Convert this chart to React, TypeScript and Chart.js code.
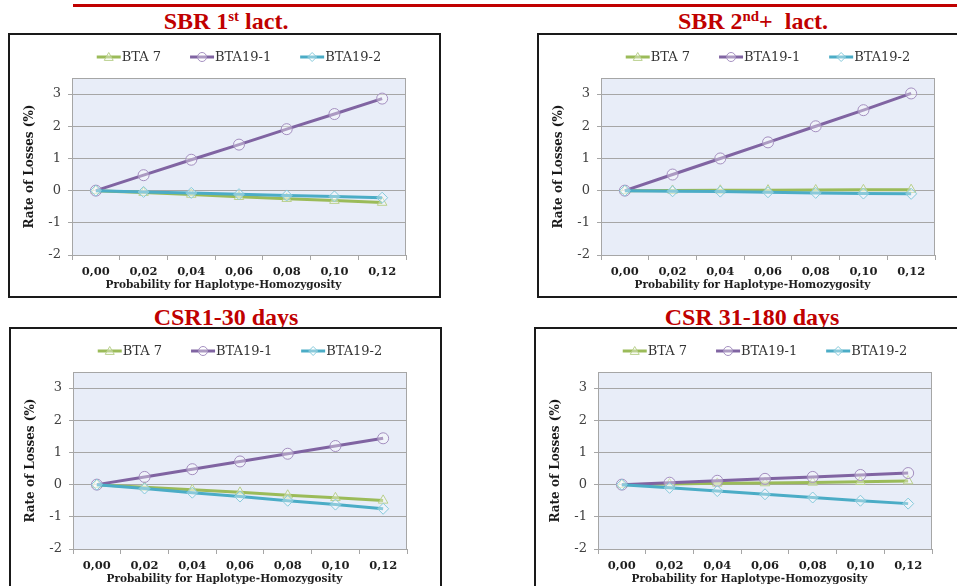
import React, { useEffect, useRef } from 'react';
import { Chart, registerables } from 'chart.js';

Chart.register(...registerables);

// ---------- data ----------
const xLabels = ['0,00', '0,02', '0,04', '0,06', '0,08', '0,10', '0,12'];
const yTicks = [-2, -1, 0, 1, 2, 3];
const seriesNames = ['BTA 7', 'BTA19-1', 'BTA19-2'];

const sbr1Bta7 = [0, -0.06, -0.12, -0.19, -0.25, -0.31, -0.37];
const sbr1Bta19_1 = [0, 0.48, 0.96, 1.43, 1.91, 2.38, 2.86];
const sbr1Bta19_2 = [0, -0.04, -0.07, -0.11, -0.15, -0.18, -0.22];

const sbr2Bta7 = [0, 0.005, 0.01, 0.015, 0.02, 0.025, 0.03];
const sbr2Bta19_1 = [0, 0.5, 1.0, 1.5, 2.0, 2.5, 3.02];
const sbr2Bta19_2 = [0, -0.02, -0.03, -0.05, -0.07, -0.09, -0.1];

const csr1Bta7 = [0, -0.08, -0.16, -0.24, -0.33, -0.41, -0.49];
const csr1Bta19_1 = [0, 0.24, 0.48, 0.72, 0.96, 1.2, 1.44];
const csr1Bta19_2 = [0, -0.12, -0.25, -0.37, -0.5, -0.62, -0.75];

const csr2Bta7 = [0, 0.02, 0.04, 0.05, 0.07, 0.09, 0.11];
const csr2Bta19_1 = [0, 0.06, 0.12, 0.18, 0.24, 0.3, 0.36];
const csr2Bta19_2 = [0, -0.1, -0.2, -0.3, -0.4, -0.5, -0.59];

const yTitle = 'Rate of Losses (%)';
const xTitle = 'Probability for Haplotype-Homozygosity';

// ---------- styling ----------
const FONT = "'DejaVu Serif', serif";
const COLORS = ['#9bbb59', '#8064a2', '#4bacc6'];
const MARKER_BORDER = ['#b9d08c', '#a48fc0', '#86cadb'];
const MARKERS = ['triangle', 'circle', 'rectRot'];
const ORDERS = [3, 2, 1];

function drawMarker(ctx: CanvasRenderingContext2D, style: string, x: number, y: number, r: number, stroke: string, fill: string) {
  ctx.save();
  ctx.beginPath();
  if (style === 'circle') {
    ctx.arc(x, y, r, 0, Math.PI * 2);
  } else if (style === 'triangle') {
    ctx.moveTo(x, y - r);
    ctx.lineTo(x + r, y + r * 0.75);
    ctx.lineTo(x - r, y + r * 0.75);
    ctx.closePath();
  } else {
    ctx.moveTo(x, y - r);
    ctx.lineTo(x + r, y);
    ctx.lineTo(x, y + r);
    ctx.lineTo(x - r, y);
    ctx.closePath();
  }
  ctx.fillStyle = fill;
  ctx.fill();
  ctx.lineWidth = 1;
  ctx.strokeStyle = stroke;
  ctx.stroke();
  ctx.restore();
}

const excelLegend = {
  id: 'excelLegend',
  afterDraw(chart: any) {
    const ctx = chart.ctx as CanvasRenderingContext2D;
    const area = chart.chartArea;
    const ds = chart.data.datasets;
    ctx.save();
    ctx.font = `13px ${FONT}`;
    const lineW = 24;
    const gapText = 1;
    const gapItem = 29;
    const widths = ds.map((d: any) => lineW + gapText + ctx.measureText(d.label).width);
    const total = widths.reduce((a: number, b: number) => a + b, 0) + gapItem * (ds.length - 1);
    let x = (area.left + area.right) / 2 - total / 2;
    const y = 22;
    ds.forEach((d: any, i: number) => {
      ctx.strokeStyle = d.borderColor;
      ctx.lineWidth = 3;
      ctx.beginPath();
      ctx.moveTo(x, y);
      ctx.lineTo(x + lineW, y);
      ctx.stroke();
      drawMarker(ctx, d.pointStyle, x + lineW / 2, y, 4.5, d.pointBorderColor, d.pointBackgroundColor);
      ctx.fillStyle = '#333333';
      ctx.textBaseline = 'middle';
      ctx.textAlign = 'left';
      ctx.fillText(d.label, x + lineW + gapText, y + 1);
      x += widths[i] + gapItem;
    });
    ctx.restore();
  },
};

// x-axis title, centred on the whole chart box (as in the spreadsheet original)
const xAxisTitle = {
  id: 'xAxisTitle',
  afterDraw(chart: any) {
    const ctx = chart.ctx as CanvasRenderingContext2D;
    ctx.save();
    ctx.font = `bold 10.5px ${FONT}`;
    ctx.fillStyle = '#1f1f1f';
    ctx.textAlign = 'center';
    ctx.textBaseline = 'middle';
    ctx.fillText(xTitle, chart.width / 2 - 1, 250);
    ctx.restore();
  },
};

const plotFrame = {
  id: 'plotFrame',
  beforeDraw(chart: any) {
    const { ctx, chartArea: a } = chart;
    ctx.save();
    ctx.fillStyle = '#e8edf8';
    ctx.fillRect(a.left, a.top, a.right - a.left, a.bottom - a.top);
    ctx.restore();
  },
  beforeDatasetsDraw(chart: any) {
    const { ctx, chartArea: a } = chart;
    ctx.save();
    ctx.strokeStyle = '#a6a6a6';
    ctx.lineWidth = 1;
    ctx.strokeRect(a.left + 0.5, a.top + 0.5, a.right - a.left - 1, a.bottom - a.top);
    ctx.restore();
  },
};

const CANVAS_W = 429;
const CANVAS_H = 261;

function LossChart({ series }: { series: number[][] }) {
  const ref = useRef<HTMLCanvasElement | null>(null);
  useEffect(() => {
    if (!ref.current) return;
    const chart = new Chart(ref.current, {
      type: 'line',
      data: {
        labels: xLabels,
        datasets: series.map((vals, i) => ({
          label: seriesNames[i],
          data: vals,
          borderColor: COLORS[i],
          backgroundColor: COLORS[i],
          borderWidth: 3,
          pointStyle: MARKERS[i],
          pointRadius: 5.5,
          pointBorderWidth: 1,
          pointBorderColor: MARKER_BORDER[i],
          pointBackgroundColor: 'rgba(255,255,255,0.35)',
          tension: 0,
          order: ORDERS[i],
        })),
      },
      options: {
        responsive: false,
        animation: false,
        layout: { padding: { top: 43, right: 33, left: 0, bottom: 0 } },
        plugins: {
          legend: { display: false },
          tooltip: { enabled: false },
          title: { display: false },
        },
        scales: {
          x: {
            type: 'category',
            offset: true,
            grid: {
              offset: true,
              drawOnChartArea: false,
              drawTicks: true,
              tickLength: 5,
              color: '#a6a6a6',
            },
            border: { color: '#a6a6a6' },
            ticks: {
              color: '#1f1f1f',
              font: { family: FONT, size: 11.5, weight: 'bold' },
              padding: 5,
              maxRotation: 0,
              autoSkip: false,
            },
            title: { display: false },
            afterFit(scale: any) {
              scale.height = 41;
            },
          },
          y: {
            type: 'linear',
            min: -2,
            max: 3.5,
            afterBuildTicks(scale: any) {
              scale.ticks = yTicks.map((v) => ({ value: v }));
            },
            grid: {
              color: '#a6a6a6',
              tickLength: 4,
              drawTicks: true,
            },
            border: { display: false },
            ticks: {
              color: '#404040',
              font: { family: FONT, size: 13 },
              padding: 7,
            },
            title: {
              display: true,
              text: yTitle,
              color: '#1a1a1a',
              font: { family: FONT, size: 12, weight: 'bold' },
              padding: { top: 13, bottom: 0 },
            },
            afterFit(scale: any) {
              scale.width = 62;
            },
          },
        },
      } as any,
      plugins: [plotFrame, excelLegend, xAxisTitle],
    });
    return () => chart.destroy();
  }, [series]);
  return <canvas ref={ref} width={CANVAS_W} height={CANVAS_H} style={{ display: 'block', width: CANVAS_W, height: CANVAS_H }} />;
}

function Panel({ left, top, series }: { left: number; top: number; series: number[][] }) {
  return (
    <div
      style={{
        position: 'absolute',
        left,
        top,
        width: CANVAS_W + 4,
        height: CANVAS_H + 4,
        border: '2px solid #1a1a1a',
        boxSizing: 'border-box',
        background: '#ffffff',
      }}
    >
      <LossChart series={series} />
    </div>
  );
}

function Title({ cx, top, children }: { cx: number; top: number; children: React.ReactNode }) {
  return (
    <div
      style={{
        position: 'absolute',
        left: cx - 160,
        top,
        width: 320,
        textAlign: 'center',
        fontFamily: "'Liberation Serif', serif",
        fontWeight: 'bold',
        fontSize: 24,
        lineHeight: '24px',
        color: '#c00000',
        whiteSpace: 'pre',
      }}
    >
      {children}
    </div>
  );
}

const supStyle: React.CSSProperties = { fontSize: '0.62em', verticalAlign: '0.55em', lineHeight: 0 };

const panel1 = [sbr1Bta7, sbr1Bta19_1, sbr1Bta19_2];
const panel2 = [sbr2Bta7, sbr2Bta19_1, sbr2Bta19_2];
const panel3 = [csr1Bta7, csr1Bta19_1, csr1Bta19_2];
const panel4 = [csr2Bta7, csr2Bta19_1, csr2Bta19_2];

export default function App() {
  return (
    <div style={{ position: 'absolute', left: 0, top: 0, width: 957, height: 586, overflow: 'hidden', background: '#ffffff' }}>
      <div style={{ position: 'absolute', left: 73, top: 4, width: 884, height: 3, background: '#c00000' }} />
      <Title cx={226} top={9}>
        SBR 1<span style={supStyle}>st</span> lact.
      </Title>
      <Title cx={753} top={9}>
        SBR 2<span style={supStyle}>nd</span>+  lact.
      </Title>
      <Title cx={226} top={305}>CSR1-30 days</Title>
      <Title cx={752} top={305}>CSR 31-180 days</Title>
      <Panel left={8} top={33} series={panel1} />
      <Panel left={537} top={33} series={panel2} />
      <Panel left={9} top={327} series={panel3} />
      <Panel left={534} top={327} series={panel4} />
    </div>
  );
}
